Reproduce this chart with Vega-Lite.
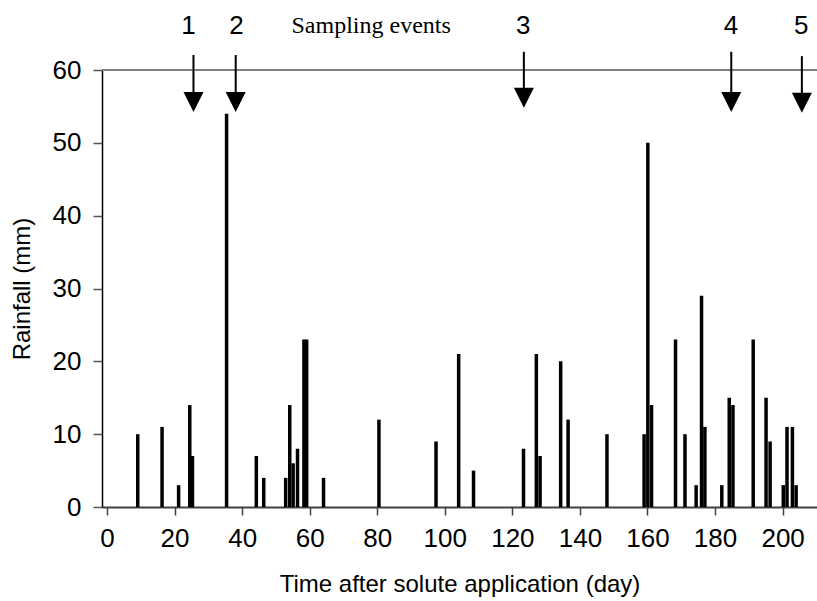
{
  "$schema": "https://vega.github.io/schema/vega-lite/v6.json",
  "autosize": "none",
  "width": 715,
  "height": 437,
  "padding": {"left": 102, "top": 70, "right": 0, "bottom": 94},
  "background": "white",
  "config": {
    "view": {"stroke": null},
    "axis": {
      "labelFont": "Liberation Sans",
      "titleFont": "Liberation Sans",
      "labelFontSize": 26,
      "titleFontSize": 24,
      "titleFontWeight": "normal",
      "labelColor": "black",
      "titleColor": "black",
      "grid": false
    }
  },
  "datasets": {
    "rain": [
      {"day": 9.1, "mm": 10}, {"day": 16.3, "mm": 11}, {"day": 21.2, "mm": 3},
      {"day": 24.5, "mm": 14}, {"day": 25.3, "mm": 7}, {"day": 35.4, "mm": 54},
      {"day": 44.2, "mm": 7}, {"day": 46.4, "mm": 4}, {"day": 52.9, "mm": 4},
      {"day": 54.1, "mm": 14}, {"day": 55.1, "mm": 6}, {"day": 56.4, "mm": 8},
      {"day": 58.3, "mm": 23}, {"day": 59.1, "mm": 23}, {"day": 64.1, "mm": 4},
      {"day": 80.5, "mm": 12}, {"day": 97.4, "mm": 9}, {"day": 104.1, "mm": 21},
      {"day": 108.5, "mm": 5}, {"day": 123.3, "mm": 8}, {"day": 127.1, "mm": 21},
      {"day": 128.2, "mm": 7}, {"day": 134.3, "mm": 20}, {"day": 136.5, "mm": 12},
      {"day": 148.0, "mm": 10}, {"day": 159.0, "mm": 10}, {"day": 160.1, "mm": 50},
      {"day": 161.2, "mm": 14}, {"day": 168.3, "mm": 23}, {"day": 171.1, "mm": 10},
      {"day": 174.4, "mm": 3}, {"day": 176.0, "mm": 29}, {"day": 177.0, "mm": 11},
      {"day": 182.0, "mm": 3}, {"day": 184.2, "mm": 15}, {"day": 185.3, "mm": 14},
      {"day": 191.3, "mm": 23}, {"day": 195.1, "mm": 15}, {"day": 196.3, "mm": 9},
      {"day": 200.2, "mm": 3}, {"day": 201.3, "mm": 11}, {"day": 202.9, "mm": 11},
      {"day": 204.0, "mm": 3}
    ],
    "events": [
      {"event": "1", "x": 25.6, "top": 62.06, "head": 55.6, "labelx": 24.1},
      {"event": "2", "x": 38.1, "top": 62.06, "head": 55.6, "labelx": 38.3},
      {"event": "3", "x": 123.4, "top": 62.5, "head": 56.2, "labelx": 123.2},
      {"event": "4", "x": 184.8, "top": 62.5, "head": 55.6, "labelx": 184.7},
      {"event": "5", "x": 205.7, "top": 61.9, "head": 55.5, "labelx": 205.5}
    ]
  },
  "layer": [
    {
      "data": {"values": [{"level": 60}]},
      "mark": {"type": "rule", "color": "#808080", "strokeWidth": 2},
      "encoding": {"y": {"field": "level", "type": "quantitative"}}
    },
    {
      "data": {"name": "rain"},
      "mark": {"type": "bar", "color": "black", "size": 3.5},
      "encoding": {
        "x": {
          "field": "day", "type": "quantitative",
          "scale": {"domain": [0, 208.7], "nice": false, "zero": false},
          "axis": {
            "values": [0, 20, 40, 60, 80, 100, 120, 140, 160, 180, 200],
            "title": "Time after solute application (day)",
            "domainColor": "#404040", "domainWidth": 2,
            "tickColor": "#404040", "tickSize": 8, "tickWidth": 1.5,
            "labelPadding": 10, "titlePadding": 21
          }
        },
        "y": {
          "field": "mm", "type": "quantitative",
          "scale": {"domain": [0, 60], "nice": false},
          "axis": {
            "values": [0, 10, 20, 30, 40, 50, 60],
            "title": "Rainfall (mm)",
            "domainColor": "black", "domainWidth": 1.5,
            "tickColor": "#555555", "tickSize": 9, "tickWidth": 1.5,
            "labelPadding": 12, "titlePadding": 18
          }
        }
      }
    },
    {
      "data": {"name": "events"},
      "mark": {"type": "rule", "color": "black", "strokeWidth": 2},
      "encoding": {
        "x": {"field": "x", "type": "quantitative"},
        "y": {"field": "top", "type": "quantitative"},
        "y2": {"field": "head"}
      }
    },
    {
      "data": {"name": "events"},
      "mark": {"type": "point", "shape": "M-1,-1L1,-1L0,1Z", "filled": true, "color": "black", "opacity": 1, "size": 400, "strokeWidth": 0},
      "encoding": {
        "x": {"field": "x", "type": "quantitative"},
        "y": {"field": "head", "type": "quantitative"}
      }
    },
    {
      "data": {"name": "events"},
      "mark": {"type": "text", "font": "Liberation Sans", "fontSize": 26, "color": "black", "baseline": "middle", "align": "center"},
      "encoding": {
        "x": {"field": "labelx", "type": "quantitative"},
        "y": {"datum": 66.0, "type": "quantitative"},
        "text": {"field": "event"}
      }
    },
    {
      "data": {"values": [{"label": "Sampling events", "x": 78.2, "y": 66.0}]},
      "mark": {"type": "text", "font": "Liberation Serif", "fontSize": 24, "color": "black", "baseline": "middle", "align": "center"},
      "encoding": {
        "x": {"field": "x", "type": "quantitative"},
        "y": {"field": "y", "type": "quantitative"},
        "text": {"field": "label"}
      }
    }
  ]
}
